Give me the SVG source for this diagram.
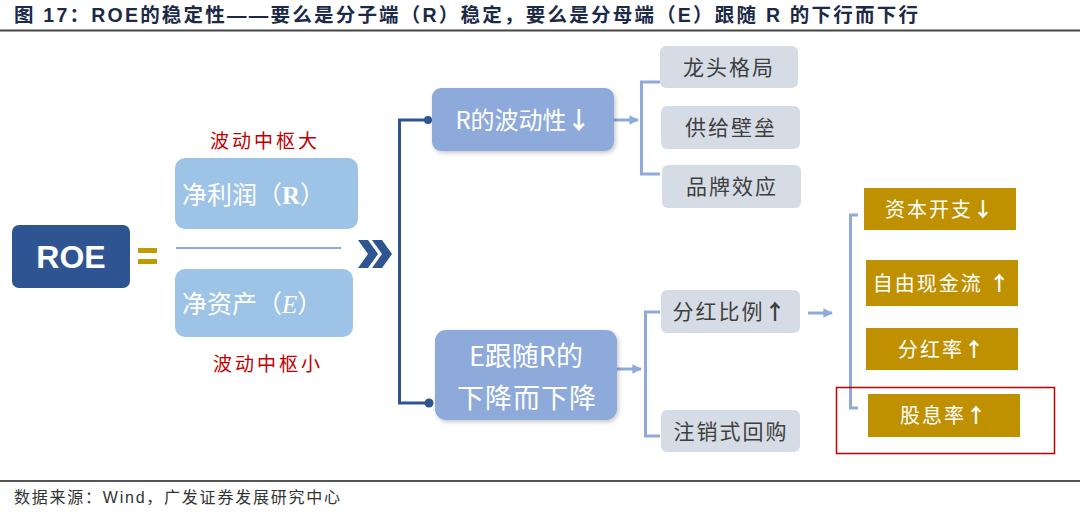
<svg xmlns="http://www.w3.org/2000/svg" width="1080" height="514" viewBox="0 0 1080 514">
<defs>
<style>
.cjk{font-family:"Noto Sans CJK SC","Noto Sans",sans-serif}
.title{font-family:"Liberation Sans","Noto Sans CJK SC",sans-serif;font-weight:bold;font-size:19.5px;fill:#1b2a47}
.foot{font-family:"Liberation Sans","Noto Sans CJK SC",sans-serif;font-size:16px;fill:#333}
.red{font-family:"Noto Sans CJK SC",sans-serif;font-size:19px;fill:#c00000;letter-spacing:3px}
.wht{fill:#ffffff}
.gtxt{font-family:"Noto Sans CJK SC",sans-serif;font-size:21px;fill:#3f3f3f;letter-spacing:2px}
.otxt{font-family:"Noto Sans CJK SC",sans-serif;font-size:20px;fill:#ffffff;letter-spacing:2px}
.gray{fill:#d6dce5}
.gold{fill:#bf9000}
.lb{fill:none;stroke:#8eaadb;stroke-width:3}
.db{fill:none;stroke:#2e5591;stroke-width:3}
</style>
<marker id="ah" viewBox="0 0 10 10" refX="9" refY="5" markerWidth="3.2" markerHeight="3.2" orient="auto" markerUnits="strokeWidth">
<path d="M0,0 L10,5 L0,10 z" fill="#8eaadb"/>
</marker>
<filter id="sh" x="-10%" y="-10%" width="125%" height="130%">
<feDropShadow dx="1.5" dy="2" stdDeviation="2" flood-color="#000" flood-opacity="0.22"/>
</filter>
</defs>
<rect width="1080" height="514" fill="#ffffff"/>

<g id="title">
<text class="title" x="14" y="22" textLength="904" lengthAdjust="spacing">图 17：ROE的稳定性——要么是分子端（R）稳定，要么是分母端（E）跟随 R 的下行而下行</text>
<line x1="0" y1="30.5" x2="1080" y2="30.5" stroke="#444" stroke-width="2"/>
</g>

<g id="connectors">
<path class="db" d="M428,120 H399.5 V403 H429"/>
<circle cx="428" cy="120" r="4" fill="#2e5591"/>
<circle cx="429" cy="403" r="4.5" fill="#2e5591"/>
<path class="lb" d="M614,120 H638" marker-end="url(#ah)"/>
<path class="lb" d="M660,82 H641.5 V174 H660"/>
<path class="lb" d="M617,369 H641" marker-end="url(#ah)"/>
<path class="lb" d="M660,312 H645.5 V436 H660"/>
<path class="lb" d="M808,313 H832" marker-end="url(#ah)"/>
<path class="lb" d="M858,215 H850.5 V408 H858"/>
<line x1="176" y1="248" x2="341" y2="248" stroke="#8faadc" stroke-width="2"/>
<path d="M358,240 H368 L378,254 L368,268 H358 L368,254 Z M372,240 H382 L392,254 L382,268 H372 L382,254 Z" fill="#2e5591"/>
</g>

<g id="roe">
<rect x="12" y="225" width="118" height="63" rx="7" fill="#2e5591"/>
<text x="71" y="268" text-anchor="middle" font-family="Liberation Sans,Arial,sans-serif" font-weight="bold" font-size="32" class="wht">ROE</text>
</g>
<g id="equals">
<rect x="138" y="248" width="19" height="5" fill="#c09a00"/>
<rect x="138" y="259" width="19" height="5" fill="#c09a00"/>
</g>

<g id="label-big"><text class="red" x="210" y="148">波动中枢大</text></g>
<g id="label-small"><text class="red" x="213" y="371">波动中枢小</text></g>

<g id="net-profit">
<rect x="175" y="158" width="183" height="71" rx="10" fill="#9dc3e6"/>
<text x="182" y="204" class="cjk wht" font-size="25">净利润（<tspan font-family="Liberation Serif,serif" font-weight="bold">R</tspan>）</text>
</g>
<g id="net-assets">
<rect x="175" y="269" width="178" height="68" rx="10" fill="#9dc3e6"/>
<text x="182" y="313" class="cjk wht" font-size="25">净资产（<tspan font-family="Liberation Serif,serif" font-style="italic">E</tspan>）</text>
</g>

<g id="r-volatility">
<rect x="432" y="88" width="182" height="63" rx="9" fill="#8eaadb" filter="url(#sh)"/>
<text x="523" y="129" text-anchor="middle" class="cjk wht" font-size="24">R的波动性<tspan font-weight="bold">↓</tspan></text>
</g>

<g id="e-follow">
<rect x="435" y="330" width="182" height="90" rx="11" fill="#8eaadb" filter="url(#sh)"/>
<text x="526" y="366" text-anchor="middle" class="cjk wht" font-size="27">E跟随R的</text>
<text x="527" y="408" text-anchor="middle" class="cjk wht" font-size="27" letter-spacing="1">下降而下降</text>
</g>

<g id="leader"><rect class="gray" x="660" y="46" width="138" height="42" rx="6"/><text class="gtxt" x="729" y="75" text-anchor="middle">龙头格局</text></g>
<g id="barrier"><rect class="gray" x="661" y="106" width="139" height="43" rx="6"/><text class="gtxt" x="731" y="135" text-anchor="middle">供给壁垒</text></g>
<g id="brand"><rect class="gray" x="662" y="165" width="139" height="43" rx="6"/><text class="gtxt" x="732" y="194" text-anchor="middle">品牌效应</text></g>
<g id="payout"><rect class="gray" x="661" y="290" width="139" height="43" rx="6"/><text class="gtxt" x="730" y="319" text-anchor="middle">分红比例<tspan font-weight="bold">↑</tspan></text></g>
<g id="buyback"><rect class="gray" x="661" y="410" width="139" height="42" rx="6"/><text class="gtxt" x="731" y="439" text-anchor="middle">注销式回购</text></g>

<g id="capex"><rect class="gold" x="864" y="188" width="152" height="42"/><text class="otxt" x="940" y="217" text-anchor="middle">资本开支<tspan font-weight="bold">↓</tspan></text></g>
<g id="fcf"><rect class="gold" x="866" y="260" width="152" height="46"/><text class="otxt" x="942" y="291" text-anchor="middle">自由现金流 <tspan font-weight="bold">↑</tspan></text></g>
<g id="payout-rate"><rect class="gold" x="866" y="328" width="152" height="42"/><text class="otxt" x="942" y="357" text-anchor="middle">分红率<tspan font-weight="bold">↑</tspan></text></g>
<g id="yield"><rect class="gold" x="868" y="394" width="152" height="43"/><text class="otxt" x="944" y="423" text-anchor="middle">股息率<tspan font-weight="bold">↑</tspan></text></g>
<g id="highlight"><rect x="836.5" y="387.5" width="218" height="66" fill="none" stroke="#c00000" stroke-width="1.5"/></g>

<g id="footer">
<line x1="0" y1="481" x2="1080" y2="481" stroke="#555" stroke-width="2"/>
<text class="foot" x="14" y="503" textLength="326" lengthAdjust="spacing">数据来源：Wind，广发证券发展研究中心</text>
</g>
</svg>
